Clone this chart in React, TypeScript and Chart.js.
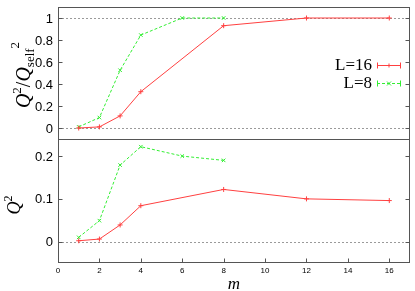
import React, { useEffect, useRef } from "react";
import { Chart, registerables } from "chart.js";

Chart.register(...registerables);

const mValues16 = [1, 2, 3, 4, 8, 12, 16];
const mValues8 = [1, 2, 3, 4, 6, 8];
const ratio16 = [0.0, 0.01, 0.11, 0.33, 0.93, 1.0, 1.0];
const ratio8 = [0.01, 0.095, 0.525, 0.845, 1.0, 1.0];
const q2_16 = [0.002, 0.006, 0.039, 0.084, 0.122, 0.1, 0.096];
const q2_8 = [0.01, 0.049, 0.179, 0.222, 0.2, 0.19];
const xTicks = [0, 2, 4, 6, 8, 10, 12, 14, 16];
const topTicks = [0, 0.2, 0.4, 0.6, 0.8, 1];
const bottomTicks = [0, 0.1, 0.2];
const topRefLines = [0, 1];
const bottomRefLines = [0];
const seriesLabels = ["L=16", "L=8"];

const RED = "#ff4040";
const GREEN = "#33ee33";
const FRAME = "#555555";

type Seg = { t: string; size: number; italic?: boolean; dy?: number };

const fmt = (v: any) => String(Math.round(Number(v) * 100) / 100);

function drawRich(ctx: CanvasRenderingContext2D, segs: Seg[], baseX: number, cy: number) {
  ctx.save();
  ctx.translate(baseX, cy);
  ctx.rotate(-Math.PI / 2);
  ctx.fillStyle = "#000";
  ctx.textBaseline = "alphabetic";
  ctx.textAlign = "left";
  let total = 0;
  const widths: number[] = [];
  for (const s of segs) {
    ctx.font = `${s.italic ? "italic " : ""}${s.size}px "Liberation Serif"`;
    const w = ctx.measureText(s.t).width;
    widths.push(w);
    total += w;
  }
  let x = -total / 2;
  segs.forEach((s, i) => {
    ctx.font = `${s.italic ? "italic " : ""}${s.size}px "Liberation Serif"`;
    ctx.fillText(s.t, x, s.dy || 0);
    x += widths[i];
  });
  ctx.restore();
}

const panelPlugin = {
  id: "panels",
  beforeDatasetsDraw(chart: any) {
    const { ctx, chartArea } = chart;
    const y1 = chart.scales.y1;
    const y2 = chart.scales.y2;
    ctx.save();
    ctx.strokeStyle = "#9a9a9a";
    ctx.lineWidth = 1;
    ctx.setLineDash([2, 2]);
    const hl = (py: number) => {
      const y = Math.round(py) + 0.5;
      ctx.beginPath();
      ctx.moveTo(chartArea.left, y);
      ctx.lineTo(chartArea.right, y);
      ctx.stroke();
    };
    topRefLines.forEach((v) => hl(y1.getPixelForValue(v)));
    bottomRefLines.forEach((v) => hl(y2.getPixelForValue(v)));
    ctx.restore();
  },
  afterDraw(chart: any) {
    const { ctx, chartArea } = chart;
    const y1 = chart.scales.y1;
    const y2 = chart.scales.y2;
    const xs = chart.scales.x;
    const L = Math.round(chartArea.left) + 0.5;
    const R = Math.round(chartArea.right) - 0.5;
    const T = Math.round(chartArea.top) + 0.5;
    const B = Math.round(chartArea.bottom) - 0.5;
    const D = Math.round(y1.bottom) + 0.5;
    ctx.save();
    ctx.strokeStyle = FRAME;
    ctx.lineWidth = 1;
    ctx.setLineDash([]);
    ctx.strokeRect(L, T, R - L, B - T);
    ctx.beginPath();
    ctx.moveTo(L, D);
    ctx.lineTo(R, D);
    ctx.stroke();
    // ticks
    const tl = 4;
    ctx.beginPath();
    const yt = (sc: any, vals: number[]) => {
      vals.forEach((v) => {
        const py = Math.round(sc.getPixelForValue(v)) + 0.5;
        ctx.moveTo(L, py);
        ctx.lineTo(L + tl, py);
        ctx.moveTo(R, py);
        ctx.lineTo(R - tl, py);
      });
    };
    yt(y1, topTicks);
    yt(y2, bottomTicks);
    xTicks.forEach((v) => {
      const px = Math.round(xs.getPixelForValue(v)) + 0.5;
      ctx.moveTo(px, B);
      ctx.lineTo(px, B - tl);
    });
    ctx.stroke();
    ctx.restore();

    // y tick labels
    ctx.save();
    ctx.fillStyle = "#000";
    ctx.font = '13px "Liberation Sans", Arial, sans-serif';
    ctx.textAlign = "right";
    ctx.textBaseline = "middle";
    topTicks.forEach((v) => ctx.fillText(fmt(v), 53, y1.getPixelForValue(v) + 1));
    bottomTicks.forEach((v) => ctx.fillText(fmt(v), 53, y2.getPixelForValue(v) + 1));
    ctx.restore();

    // y titles
    drawRich(
      ctx,
      [
        { t: "Q", size: 20, italic: true },
        { t: "2", size: 13, dy: -9 },
        { t: "/", size: 20 },
        { t: "Q", size: 20, italic: true },
        { t: "self", size: 13, dy: 4 },
        { t: "2", size: 13, dy: -11 },
      ],
      30,
      (y1.top + y1.bottom) / 2 + 2
    );
    drawRich(
      ctx,
      [
        { t: "Q", size: 18, italic: true },
        { t: "2", size: 12, dy: -8 },
      ],
      20,
      (y2.top + y2.bottom) / 2 + 4
    );

    // legend
    ctx.save();
    const lx1 = 377;
    const lx2 = 401;
    const rows = [
      { y: 65, ds: chart.data.datasets[0] },
      { y: 83, ds: chart.data.datasets[1] },
    ];
    rows.forEach((r) => {
      ctx.font = '17px "Liberation Serif"';
      ctx.fillStyle = "#000";
      ctx.textAlign = "right";
      ctx.textBaseline = "middle";
      ctx.fillText(r.ds.label, 372, r.y + 1);
      ctx.strokeStyle = r.ds.borderColor;
      ctx.lineWidth = 1;
      ctx.setLineDash(r.ds.borderDash || []);
      const yy = r.y + 0.5;
      ctx.beginPath();
      ctx.moveTo(lx1, yy);
      ctx.lineTo(lx2, yy);
      ctx.stroke();
      ctx.setLineDash([]);
      ctx.beginPath();
      ctx.moveTo(lx1 + 0.5, yy - 3);
      ctx.lineTo(lx1 + 0.5, yy + 3);
      ctx.moveTo(lx2 - 0.5, yy - 3);
      ctx.lineTo(lx2 - 0.5, yy + 3);
      ctx.stroke();
      const mx = (lx1 + lx2) / 2;
      ctx.beginPath();
      if (r.ds.pointStyle === "cross") {
        ctx.moveTo(mx - 2, yy);
        ctx.lineTo(mx + 2, yy);
        ctx.moveTo(mx, yy - 2);
        ctx.lineTo(mx, yy + 2);
      } else {
        ctx.moveTo(mx - 2, yy - 2);
        ctx.lineTo(mx + 2, yy + 2);
        ctx.moveTo(mx - 2, yy + 2);
        ctx.lineTo(mx + 2, yy - 2);
      }
      ctx.stroke();
    });
    ctx.restore();
  },
};

const toXY = (xs: number[], ys: number[]) => xs.map((x, i) => ({ x, y: ys[i] }));

export default function App() {
  const ref = useRef<HTMLCanvasElement | null>(null);
  useEffect(() => {
    document.body.style.margin = "0";
    if (!ref.current) return;
    const fixY = (w: number) => (s: any) => {
      s.width = w;
      s.paddingTop = 0;
      s.paddingBottom = 0;
    };
    const mk = (label: string, xs: number[], ys: number[], axis: string, color: string, dashed: boolean) => ({
      label,
      data: toXY(xs, ys),
      yAxisID: axis,
      borderColor: color,
      backgroundColor: color,
      borderWidth: 1,
      borderDash: dashed ? [3, 2] : [],
      pointStyle: dashed ? "crossRot" : "cross",
      pointRadius: 2.5,
      pointBorderWidth: 1,
    });
    const chart = new Chart(ref.current, {
      type: "line",
      data: {
        datasets: [
          mk(seriesLabels[0], mValues16, ratio16, "y1", RED, false),
          mk(seriesLabels[1], mValues8, ratio8, "y1", GREEN, true),
          mk(seriesLabels[0], mValues16, q2_16, "y2", RED, false),
          mk(seriesLabels[1], mValues8, q2_8, "y2", GREEN, true),
        ] as any,
      },
      options: {
        animation: false,
        responsive: false,
        maintainAspectRatio: false,
        layout: { padding: { top: 7, right: 5, bottom: 0, left: 0 } },
        plugins: { legend: { display: false }, tooltip: { enabled: false } },
        scales: {
          x: {
            type: "linear",
            min: 0,
            max: 17,
            grid: { display: false, drawTicks: false },
            border: { display: false },
            afterBuildTicks: (s: any) => {
              s.ticks = xTicks.map((v) => ({ value: v }));
            },
            afterFit: (s: any) => {
              s.height = 28;
              s.paddingLeft = 0;
              s.paddingRight = 0;
            },
            ticks: {
              font: { family: '"Liberation Sans", Arial, sans-serif', size: 8 },
              color: "#000",
              padding: 3,
              maxRotation: 0,
              autoSkip: false,
              callback: fmt,
            },
            title: {
              display: true,
              text: "m",
              color: "#000",
              font: { family: '"Liberation Serif"', style: "italic", size: 17, lineHeight: 0.8 },
              padding: { top: 0, bottom: 0 },
            },
          },
          y1: {
            type: "linear",
            position: "left",
            stack: "panels",
            stackWeight: 132,
            weight: 2,
            min: -0.1,
            max: 1.1,
            grid: { display: false, drawTicks: false },
            border: { display: false },
            afterBuildTicks: (s: any) => {
              s.ticks = topTicks.map((v) => ({ value: v }));
            },
            afterFit: fixY(58),
            ticks: { display: false },
          },
          y2: {
            type: "linear",
            position: "left",
            stack: "panels",
            stackWeight: 124,
            weight: 1,
            min: -0.05,
            max: 0.24,
            grid: { display: false, drawTicks: false },
            border: { display: false },
            afterBuildTicks: (s: any) => {
              s.ticks = bottomTicks.map((v) => ({ value: v }));
            },
            afterFit: fixY(58),
            ticks: { display: false },
          },
        },
      },
      plugins: [panelPlugin],
    });
    return () => chart.destroy();
  }, []);
  return (
    <div style={{ width: 415, height: 291 }}>
      <canvas ref={ref} width={415} height={291} style={{ display: "block" }} />
    </div>
  );
}
